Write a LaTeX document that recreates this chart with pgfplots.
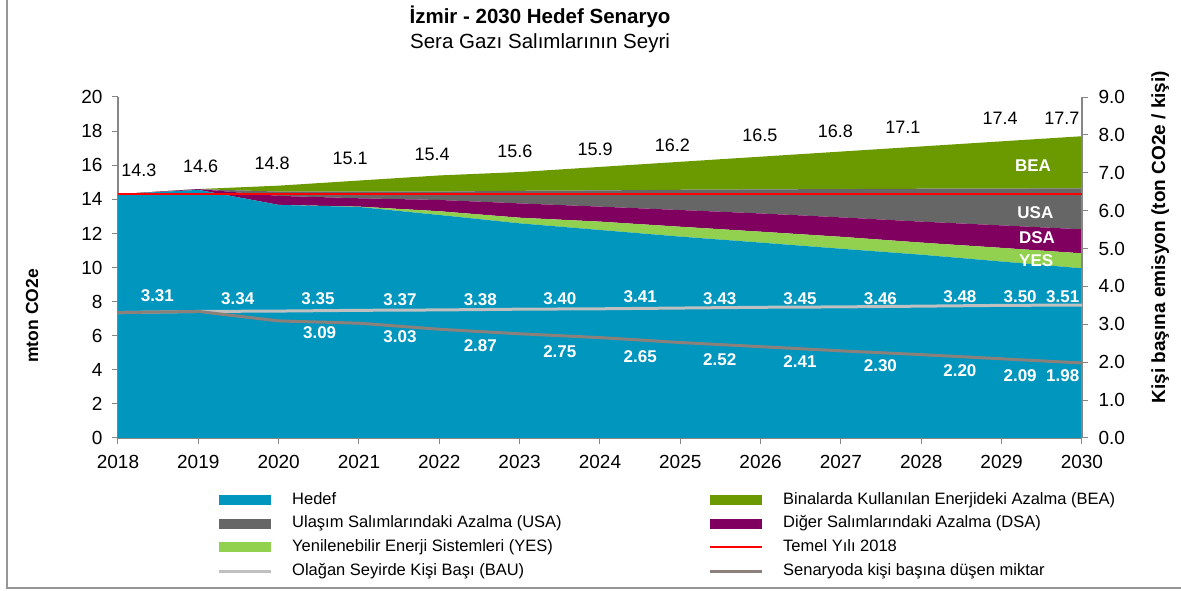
\documentclass[border=0pt]{standalone}
\usepackage{fontspec}
\setmainfont{Liberation Sans}
\usepackage{pgfplots}
\pgfplotsset{compat=1.18}
\usepackage{pgfplotstable}

\definecolor{hedef}{RGB}{0,150,190}
\definecolor{bea}{RGB}{107,153,0}
\definecolor{usa}{RGB}{102,102,102}
\definecolor{dsa}{RGB}{128,0,96}
\definecolor{yescol}{RGB}{146,208,80}
\definecolor{temel}{RGB}{255,0,0}
\definecolor{bau}{RGB}{192,192,192}
\definecolor{scen}{RGB}{140,128,122}
\definecolor{axisgrey}{RGB}{134,134,134}
\definecolor{framegrey}{RGB}{150,150,150}

% emisyon katmanlari (mton CO2e), ust uste
\pgfplotstableread{
year hedef yes  dsa  usa  bea
2018 14.30 0.00 0.00 0.00 0.00
2019 14.55 0.00 0.05 0.00 0.00
2020 13.67 0.00 0.53 0.25 0.35
2021 13.55 0.02 0.49 0.39 0.65
2022 13.08 0.22 0.66 0.49 0.95
2023 12.59 0.33 0.84 0.74 1.10
2024 12.20 0.49 0.88 0.95 1.38
2025 11.81 0.58 0.98 1.19 1.64
2026 11.46 0.64 1.07 1.41 1.92
2027 11.10 0.70 1.14 1.66 2.20
2028 10.75 0.71 1.23 1.93 2.48
2029 10.35 0.80 1.32 2.16 2.77
2030  9.95 0.88 1.41 2.40 3.06
}\emis

% kisi basina (ton CO2e / kisi)
\pgfplotstableread{
year bau  scen
2018 3.31 3.31
2019 3.34 3.34
2020 3.35 3.09
2021 3.37 3.03
2022 3.38 2.87
2023 3.40 2.75
2024 3.41 2.65
2025 3.43 2.52
2026 3.45 2.41
2027 3.46 2.30
2028 3.48 2.20
2029 3.50 2.09
2030 3.51 1.98
}\kisi

\pgfplotsset{
  base/.style={scale only axis, width=964pt, height=341pt,
    at={(0pt,0pt)}, anchor=south west, xmin=2018, xmax=2030, clip=false,
    /pgf/number format/assume math mode=true,
    /pgf/number format/1000 sep={}},
  legarea/.style={legend image code/.code={\fill[##1, draw=none] (0pt,-5pt) rectangle (52pt,5pt);}},
  legline/.style={legend image code/.code={\draw[##1] (0pt,0pt) -- (52pt,0pt);}},
}
\tikzset{
  wlab/.style={text=white, font=\bfseries\fontsize{17}{20}\selectfont, inner sep=0pt},
  blab/.style={text=black, font=\fontsize{18}{21}\selectfont, inner sep=0pt},
}

\begin{document}
\begin{tikzpicture}
\path[use as bounding box] (-118pt,-153pt) rectangle (1063pt,438pt);

\begin{axis}[base,
  ymin=0, ymax=20, ytick={0,2,...,20}, xtick={2018,2019,...,2030},
  axis x line*=bottom, axis y line*=left,
  axis line style={draw=axisgrey, line width=1.2pt},
  tick style={draw=axisgrey, line width=1pt}, major tick length=6pt,
  tick align=outside,
  ticklabel style={font=\fontsize{19}{22}\selectfont},
  xticklabel style={yshift=-8pt},
  yticklabel style={xshift=-6pt},
  ylabel={mton CO2e},
  every axis y label/.style={at={(axis description cs:-0.0892,0.358)},
    rotate=90, anchor=center, font=\bfseries\fontsize{17.5}{20}\selectfont},
  title={{\bfseries İzmir - 2030 Hedef Senaryo}\\Sera Gazı Salımlarının Seyri},
  title style={at={(axis description cs:0.4378,1.180)}, anchor=center,
    align=center, font=\fontsize{20.5}{25}\selectfont},
  stack plots=y,
  legend columns=2, legend cell align=left,
  legend style={at={(axis description cs:0.1027,-0.158)}, anchor=north west,
    draw=none, fill=none, inner sep=0pt, row sep=7.7pt,
    font=\fontsize{16.5}{19}\selectfont,
    nodes={inner sep=0pt, text height=12pt, text depth=4pt},
    /tikz/every odd column/.append style={column sep=20pt}},
]
\addplot[fill=hedef, draw=none, forget plot] table[x=year, y=hedef] {\emis} \closedcycle;
\addplot[fill=yescol, draw=none, forget plot] table[x=year, y=yes] {\emis} \closedcycle;
\addplot[fill=dsa, draw=none, forget plot] table[x=year, y=dsa] {\emis} \closedcycle;
\addplot[fill=usa, draw=none, forget plot] table[x=year, y=usa] {\emis} \closedcycle;
\addplot[fill=bea, draw=none, forget plot] table[x=year, y=bea] {\emis} \closedcycle;

\addlegendimage{legarea, fill=hedef}
\addlegendentry{\makebox[416pt][l]{Hedef}}
\addlegendimage{legarea, fill=bea}
\addlegendentry{Binalarda Kullanılan Enerjideki Azalma (BEA)}
\addlegendimage{legarea, fill=usa}
\addlegendentry{\makebox[416pt][l]{Ulaşım Salımlarındaki Azalma (USA)}}
\addlegendimage{legarea, fill=dsa}
\addlegendentry{Diğer Salımlarındaki Azalma (DSA)}
\addlegendimage{legarea, fill=yescol}
\addlegendentry{\makebox[416pt][l]{Yenilenebilir Enerji Sistemleri (YES)}}
\addlegendimage{legline, draw=temel, line width=2pt}
\addlegendentry{Temel Yılı 2018}
\addlegendimage{legline, draw=bau, line width=3pt}
\addlegendentry{\makebox[416pt][l]{Olağan Seyirde Kişi Başı (BAU)}}
\addlegendimage{legline, draw=scen, line width=3pt}
\addlegendentry{Senaryoda kişi başına düşen miktar}
\end{axis}

\begin{axis}[base,
  ymin=0, ymax=9, ytick={0,1,...,9},
  axis y line*=right, axis x line=none,
  axis line style={draw=axisgrey, line width=1.2pt},
  tick style={draw=axisgrey, line width=1pt}, major tick length=6pt,
  tick align=outside,
  ticklabel style={font=\fontsize{19}{22}\selectfont},
  yticklabel style={xshift=7pt, /pgf/number format/fixed,
    /pgf/number format/fixed zerofill, /pgf/number format/precision=1},
  ylabel={Kişi başına emisyon (ton CO2e / kişi)},
  every axis y label/.style={at={(axis description cs:1.081,0.589)},
    rotate=90, anchor=center, font=\bfseries\fontsize{19}{22}\selectfont},
]
\addplot[bau, line width=3pt] table[x=year, y=bau] {\kisi};
\addplot[scen, line width=3pt] table[x=year, y=scen] {\kisi};

\node[wlab] at (axis cs:2018.49,3.75) {3.31};
\node[wlab] at (axis cs:2019.49,3.69) {3.34};
\node[wlab] at (axis cs:2020.49,3.69) {3.35};
\node[wlab] at (axis cs:2021.51,3.64) {3.37};
\node[wlab] at (axis cs:2022.51,3.64) {3.38};
\node[wlab] at (axis cs:2023.50,3.67) {3.40};
\node[wlab] at (axis cs:2024.50,3.72) {3.41};
\node[wlab] at (axis cs:2025.49,3.69) {3.43};
\node[wlab] at (axis cs:2026.49,3.69) {3.45};
\node[wlab] at (axis cs:2027.49,3.69) {3.46};
\node[wlab] at (axis cs:2028.48,3.72) {3.48};
\node[wlab] at (axis cs:2029.23,3.72) {3.50};
\node[wlab] at (axis cs:2029.76,3.72) {3.51};

\node[wlab] at (axis cs:2020.51,2.77) {3.09};
\node[wlab] at (axis cs:2021.51,2.67) {3.03};
\node[wlab] at (axis cs:2022.51,2.45) {2.87};
\node[wlab] at (axis cs:2023.50,2.27) {2.75};
\node[wlab] at (axis cs:2024.50,2.16) {2.65};
\node[wlab] at (axis cs:2025.49,2.06) {2.52};
\node[wlab] at (axis cs:2026.49,2.01) {2.41};
\node[wlab] at (axis cs:2027.49,1.90) {2.30};
\node[wlab] at (axis cs:2028.48,1.79) {2.20};
\node[wlab] at (axis cs:2029.23,1.64) {2.09};
\node[wlab] at (axis cs:2029.76,1.64) {1.98};
\end{axis}

\begin{axis}[base, ymin=0, ymax=20, hide axis]
\addplot[temel, line width=2pt] coordinates {(2018,14.3) (2030,14.3)};

\node[blab] at (axis cs:2018.26,15.72) {14.3};
\node[blab] at (axis cs:2019.03,15.95) {14.6};
\node[blab] at (axis cs:2019.92,16.13) {14.8};
\node[blab] at (axis cs:2020.89,16.42) {15.1};
\node[blab] at (axis cs:2021.91,16.66) {15.4};
\node[blab] at (axis cs:2022.94,16.83) {15.6};
\node[blab] at (axis cs:2023.94,16.95) {15.9};
\node[blab] at (axis cs:2024.90,17.18) {16.2};
\node[blab] at (axis cs:2025.99,17.77) {16.5};
\node[blab] at (axis cs:2026.93,18.00) {16.8};
\node[blab] at (axis cs:2027.77,18.24) {17.1};
\node[blab] at (axis cs:2028.98,18.77) {17.4};
\node[blab] at (axis cs:2029.75,18.77) {17.7};

\node[wlab] at (axis cs:2029.39,15.95) {BEA};
\node[wlab] at (axis cs:2029.42,13.20) {USA};
\node[wlab] at (axis cs:2029.44,11.73) {DSA};
\node[wlab] at (axis cs:2029.43,10.38) {YES};
\end{axis}

\draw[framegrey, line width=1.5pt] (-111pt,438pt) -- (-111pt,-150pt) -- (1063pt,-150pt);
\end{tikzpicture}
\end{document}
